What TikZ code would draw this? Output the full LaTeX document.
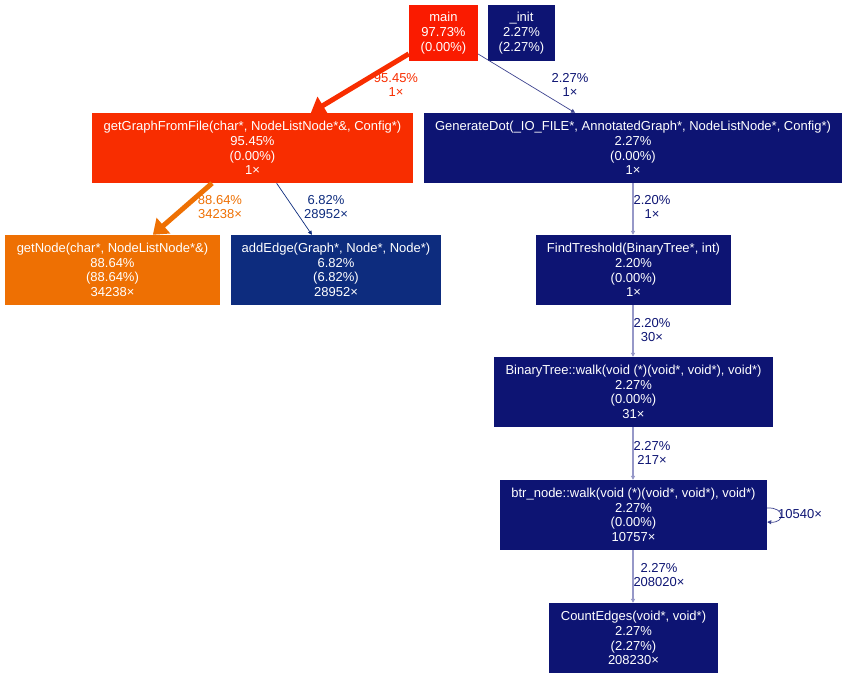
\documentclass[tikz,border=0pt]{standalone}
\usepackage{fontspec}
\setmainfont{Liberation Sans}
\usepackage{tikz}
\usetikzlibrary{arrows.meta, positioning, calc}

\definecolor{mainred}{RGB}{250,27,0}
\definecolor{filered}{RGB}{248,45,0}
\definecolor{nodeorange}{RGB}{238,112,3}
\definecolor{edgeblue}{RGB}{13,44,126}
\definecolor{callnavy}{RGB}{13,20,115}
\definecolor{linknavy}{RGB}{150,152,200}

\tikzset{
  fn/.style={rectangle, inner sep=0pt, text=white, align=center,
    font=\fontsize{13}{14.7}\selectfont},
  lbl/.style={align=center, font=\fontsize{13}{14.7}\selectfont},
  thin call/.style={draw=#1, line width=0.7pt, -{Triangle[length=4pt, width=4pt]}},
  thick call/.style={draw=#1, line width=5pt, -{Triangle[length=14pt, width=20pt]}}
}

\begin{document}
\begin{tikzpicture}[x=1pt, y=-1pt]

\useasboundingbox (0,0) rectangle (849,679);

% --- Functions ---
\node[fn, fill=mainred, minimum width=69pt, minimum height=56pt] (main) at (443.5,33) {main\\97.73\%\\(0.00\%)};
\node[fn, fill=callnavy, minimum width=67pt, minimum height=56pt] (init) at (521.5,33) {\_init\\2.27\%\\(2.27\%)};

\node[fn, fill=filered, minimum width=321pt, minimum height=70pt] (getgraph) at (252.5,148) {getGraphFromFile(char*, NodeListNode*\&, Config*)\\95.45\%\\(0.00\%)\\1×};
\node[fn, fill=callnavy, minimum width=418pt, minimum height=70pt] (gendot) at (633,148) {GenerateDot(\_IO\_FILE*, AnnotatedGraph*, NodeListNode*, Config*)\\2.27\%\\(0.00\%)\\1×};

\node[fn, fill=nodeorange, minimum width=215pt, minimum height=70pt] (getnode) at (112.5,270) {getNode(char*, NodeListNode*\&)\\88.64\%\\(88.64\%)\\34238×};
\node[fn, fill=edgeblue, minimum width=210pt, minimum height=70pt] (addedge) at (336,270) {addEdge(Graph*, Node*, Node*)\\6.82\%\\(6.82\%)\\28952×};
\node[fn, fill=callnavy, minimum width=195pt, minimum height=70pt] (findtr) at (633.5,270) {FindTreshold(BinaryTree*, int)\\2.20\%\\(0.00\%)\\1×};

\node[fn, fill=callnavy, minimum width=279pt, minimum height=70pt] (treewalk) at (633.5,392) {BinaryTree::walk(void (*)(void*, void*), void*)\\2.27\%\\(0.00\%)\\31×};
\node[fn, fill=callnavy, minimum width=267pt, minimum height=70pt] (nodewalk) at (633.5,515) {btr\_node::walk(void (*)(void*, void*), void*)\\2.27\%\\(0.00\%)\\10757×};
\node[fn, fill=callnavy, minimum width=169pt, minimum height=70pt] (countedges) at (633.5,638) {CountEdges(void*, void*)\\2.27\%\\(2.27\%)\\208230×};

% --- Calls ---
\draw[thick call=filered] (main) -- (getgraph);
\node[lbl, text=filered] (l1) at (396,85) {95.45\%\\1×};

\draw[thin call=callnavy!80] (main) -- (gendot);
\node[lbl, text=callnavy] (l2) at (570,85) {2.27\%\\1×};

\draw[thick call=nodeorange] (getgraph) -- (getnode);
\node[lbl, text=nodeorange] (l3) at (220,207) {88.64\%\\34238×};

\draw[thin call=edgeblue] (getgraph) -- (addedge);
\node[lbl, text=edgeblue] (l4) at (326,207) {6.82\%\\28952×};

% vertical chain
\foreach \from/\to/\y/\pct/\cnt in {gendot/findtr/207/2.20/1, findtr/treewalk/330/2.20/30, treewalk/nodewalk/453/2.27/217} {
  \draw[draw=linknavy, line width=1.5pt, -{Triangle[length=4pt, width=4pt, fill=callnavy]}] (\from.south -| 633,0) -- (\to.north -| 633,0);
  \node[lbl, text=callnavy] at (652,\y) {\pct\%\\\cnt×};
}

\draw[draw=linknavy, line width=1.5pt, -{Triangle[length=4pt, width=4pt, fill=callnavy]}] (nodewalk.south -| 633,0) -- (countedges.north -| 633,0);
\node[lbl, text=callnavy] (l8) at (659,575) {2.27\%\\208020×};

% recursion
\draw[callnavy!80, line width=0.7pt, -{Triangle[length=4pt, width=4pt]}] ([yshift=7pt]nodewalk.east) .. controls +(18,-1) and +(18,1) .. ([yshift=-7pt]nodewalk.east);
\node[lbl, text=callnavy] (l9) at (800,514) {10540×};

\end{tikzpicture}
\end{document}
